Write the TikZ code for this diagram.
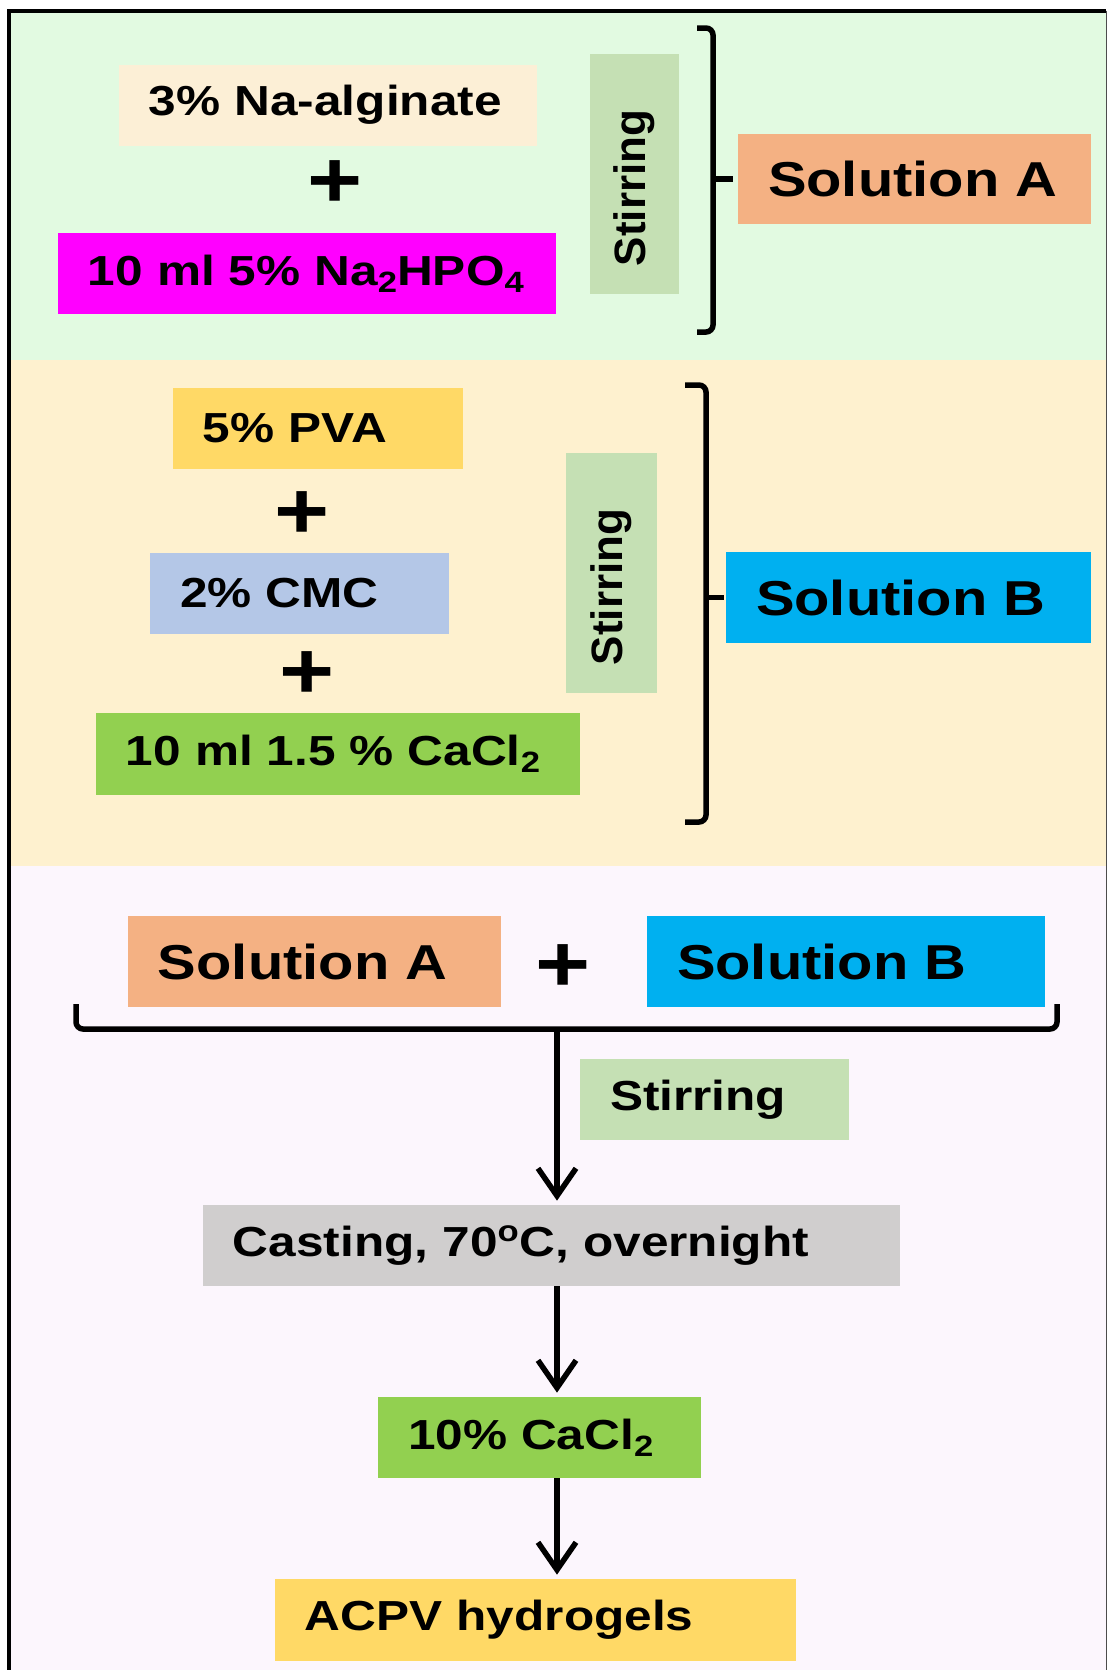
\documentclass[tikz,border=0pt]{standalone}
\usepackage{fontspec}
\usetikzlibrary{arrows.meta}
\newfontfamily\labelfont{Liberation Sans}[FakeStretch=1.18]
\newfontfamily\stirfont{Liberation Sans}
\newcommand\lowsub[1]{\raisebox{-4pt}{\fontsize{16.7}{18}\selectfont #1}}
\definecolor{bgtop}{HTML}{E2FAE1}
\definecolor{bgmid}{HTML}{FEF1CF}
\definecolor{bglow}{HTML}{FCF6FD}
\definecolor{cream}{HTML}{FCEFD6}
\definecolor{fuchsia}{HTML}{FF00FF}
\definecolor{peach}{HTML}{F4B183}
\definecolor{sky}{HTML}{00B0F0}
\definecolor{gold}{HTML}{FFD966}
\definecolor{steel}{HTML}{B4C7E7}
\definecolor{lime}{HTML}{92D050}
\definecolor{sage}{HTML}{C5E0B4}
\definecolor{ash}{HTML}{D0CECE}
\begin{document}
\begin{tikzpicture}[x=0.2mm, y=-0.2mm,
  box/.style={rectangle, inner xsep=6mm, inner ysep=0pt, align=left,
    font=\labelfont\bfseries\fontsize{23.9}{28}\selectfont},
  bigbox/.style={box, font=\labelfont\bfseries\fontsize{27.9}{32}\selectfont},
  stirbox/.style={box, rotate=90, fill=sage, inner xsep=5.6mm, minimum width=48mm,
    text width=36.8mm, font=\stirfont\bfseries\fontsize{25}{30}\selectfont},
  plus/.style={inner sep=0pt, font=\labelfont\bfseries\fontsize{45.5}{50}\selectfont},
  brk/.style={line width=1.1mm, rounded corners=1.4mm},
  flow/.style={line width=1.1mm, shorten >=0.8mm, -{Straight Barb[length=5.5mm, width=7.6mm]}}]
  \useasboundingbox (0,0) rectangle (1107,1670);
  \fill[white] (0,0) rectangle (1107,1670);
  \fill[bgtop] (9,10) rectangle (1106,360);
  \fill[bgmid] (9,360) rectangle (1106,866);
  \fill[bglow] (9,866) rectangle (1106,1670);
  \draw[line width=0.8mm] (9,1670) -- (9,10.5) -- (1106,10.5);
  \draw[line width=0.2mm, black!70] (1106,10.5) -- (1106,1670);

  \node[box, fill=cream, minimum height=16.2mm, text width=71.6mm] (alg) at (328,105) {3\% Na-alginate};
  \node[box, fill=fuchsia, minimum height=16.2mm, text width=87.6mm] (hpo) at (307,273.5) {\mbox{10 ml 5\% Na\lowsub{2}HPO\lowsub{4}}};
  \node[stirbox, minimum height=17.8mm] (stirA) at (634.5,174) {Stirring};
  \node[bigbox, fill=peach, minimum height=18mm, text width=58.6mm] (solA) at (914.5,179) {Solution A};

  \node[box, fill=gold, minimum height=16.2mm, text width=46mm] (pva) at (318,428.5) {5\% PVA};
  \node[box, fill=steel, minimum height=16.2mm, text width=47.8mm] (cmc) at (299.5,593.5) {2\% CMC};
  \node[box, fill=lime, minimum height=16.4mm, text width=84.8mm] (cacl) at (338,754) {\mbox{10 ml 1.5 \% CaCl\lowsub{2}}};
  \node[stirbox, minimum height=18.2mm] (stirB) at (611.5,573) {Stirring};
  \node[bigbox, fill=sky, minimum height=18.2mm, text width=61mm] (solB) at (908.5,597.5) {Solution B};

  \node[bigbox, fill=peach, minimum height=18.2mm, text width=62.6mm] (mixA) at (314.5,961.5) {Solution A};
  \node[bigbox, fill=sky, minimum height=18.2mm, text width=67.6mm] (mixB) at (846,961.5) {Solution B};
  \node[box, fill=sage, minimum height=16.2mm, text width=41.8mm] (stirC) at (714.5,1099.5) {Stirring};
  \node[box, fill=ash, minimum height=16.2mm, text width=127.4mm] (cast) at (551.5,1245.5) {Casting, 70\textsuperscript{o}C, overnight};
  \node[box, fill=lime, minimum height=16.2mm, text width=52.6mm] (dip) at (539.5,1437.5) {\mbox{10\% CaCl\lowsub{2}}};
  \node[box, fill=gold, minimum height=16.4mm, text width=92.2mm] (gel) at (535.5,1620) {ACPV hydrogels};

  \foreach \n/\x/\y in {pa/335/184, pb/302/515, pc/307/675, pd/563/968}
    \node[plus] (\n) at (\x,\y) {+};

  \draw[brk] (697,28) -- (713,28) -- (713,332) -- (697,332);
  \coordinate (tipA) at (713,179);
  \draw[brk] (tipA) -- ([xshift=-1mm]solA.west);
  \draw[brk] (685,385) -- (706,385) -- (706,822) -- (685,822);
  \coordinate (tipB) at (706,597.5);
  \draw[brk] (tipB) -- ([xshift=-0.4mm]solB.west);
  \draw[brk] (76,1004) -- (76,1029) -- (1057,1029) -- (1057,1004);
  \coordinate (brc) at (557,1029);
  \draw[flow] (brc) -- (brc |- cast.north);
  \draw[flow] (cast.south -| brc) -- (brc |- dip.north);
  \draw[flow] (dip.south -| brc) -- (brc |- gel.north);
\end{tikzpicture}
\end{document}
